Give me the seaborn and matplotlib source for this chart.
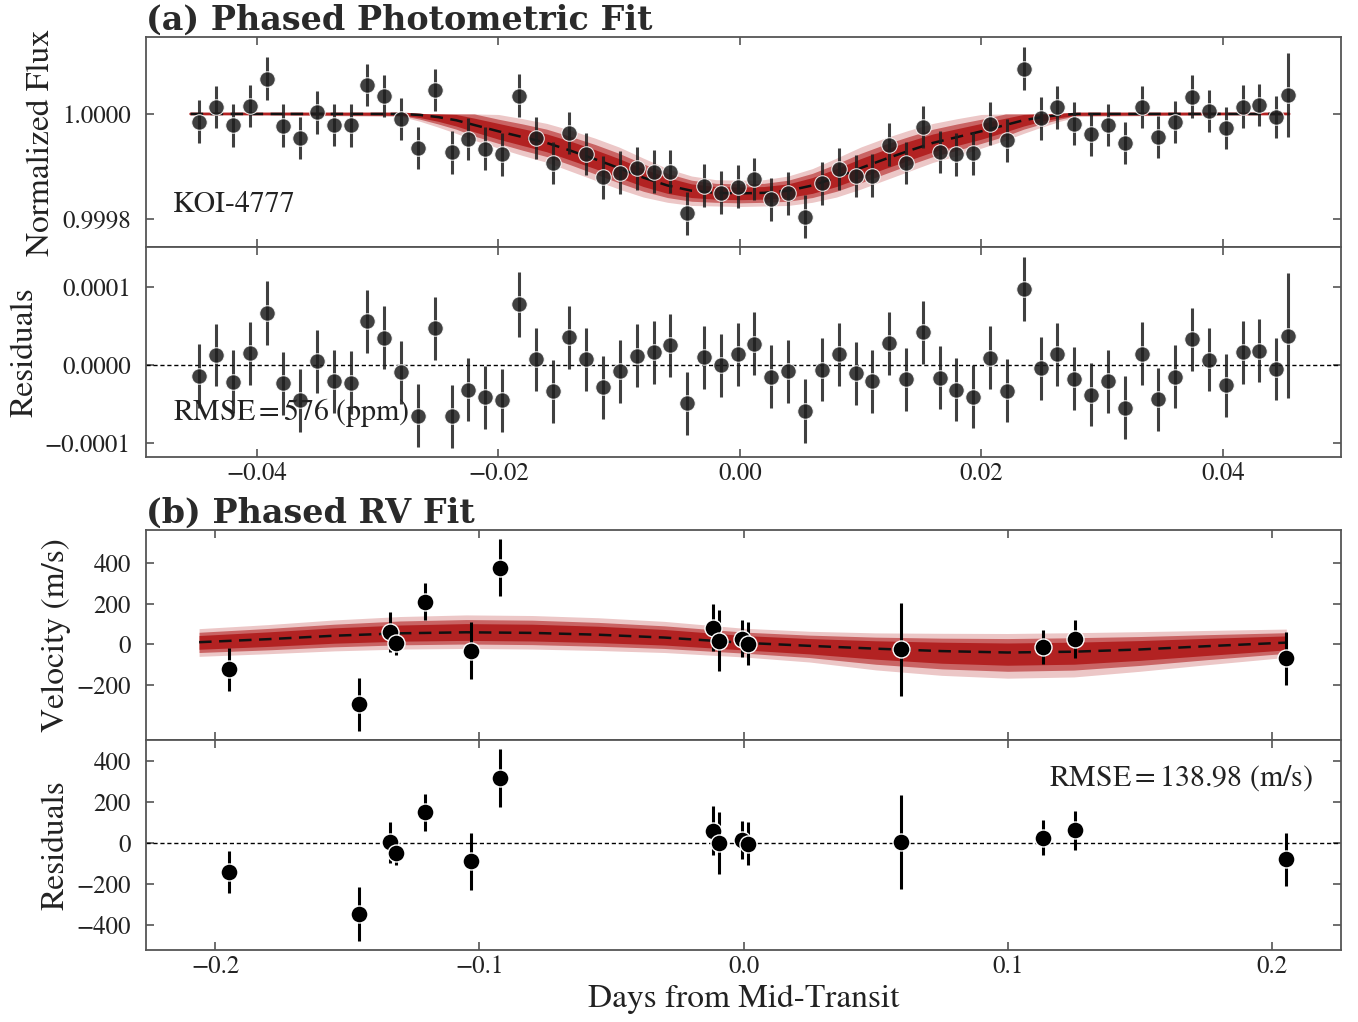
import numpy as np
import pandas as pd
import matplotlib
matplotlib.use("Agg")
import matplotlib.pyplot as plt
from matplotlib.ticker import FuncFormatter, FixedLocator
import seaborn as sns

# ---------------- data: (a) phased photometry ----------------
phot_x = [-0.04479, -0.04340, -0.04200, -0.04061, -0.03921, -0.03782, -0.03643, -0.03503,
          -0.03364, -0.03224, -0.03085, -0.02946, -0.02806, -0.02667, -0.02527, -0.02388,
          -0.02249, -0.02109, -0.01970, -0.01830, -0.01691, -0.01552, -0.01412, -0.01273,
          -0.01133, -0.00994, -0.00855, -0.00715, -0.00576, -0.00436, -0.00297, -0.00158,
          -0.00018, 0.00121, 0.00261, 0.00400, 0.00540, 0.00679, 0.00818, 0.00958,
          0.01097, 0.01237, 0.01376, 0.01515, 0.01655, 0.01794, 0.01934, 0.02073,
          0.02212, 0.02352, 0.02491, 0.02631, 0.02770, 0.02909, 0.03049, 0.03188,
          0.03328, 0.03467, 0.03606, 0.03746, 0.03885, 0.04025, 0.04164, 0.04303,
          0.04443, 0.04540]
# flux deviation from 1 in ppm
phot_dflux_ppm = [-14.6, 12.7, -21.7, 14.6, 66.9, -22.3, -45.9, 3.2, -21.0, -21.7, 54.8, 33.8,
                  -9.6, -65.0, 45.2, -73.2, -47.8, -66.2, -77.1, 35.0, -45.9, -93.6, -36.3, -75.8,
                  -120.4, -111.5, -103.2, -109.6, -109.6, -189.2, -136.3, -149.7, -138.2, -123.6,
                  -162.4, -151.0, -195.5, -131.8, -104.5, -117.8, -117.2, -58.6, -93.6, -24.8,
                  -72.0, -77.1, -75.2, -18.5, -50.3, 86.0, -8.3, 12.7, -18.5, -38.9, -21.0,
                  -55.4, 13.4, -43.9, -15.3, 33.1, 5.7, -26.8, 14.0, 17.2, -5.7, 36.3]
phot_resid_ppm = [-14.1, 12.8, -21.4, 15.0, 67.2, -23.1, -45.0, 5.1, -20.6, -22.7, 56.1, 35.1,
                  -9.0, -64.7, 47.1, -65.5, -31.7, -41.1, -45.0, 77.9, 7.7, -33.4, 36.0, 7.3,
                  -28.7, -7.7, 12.0, 16.3, 25.7, -48.8, 10.3, 0.0, 13.7, 27.4, -15.0, -7.7,
                  -59.2, -5.6, 13.7, -10.7, -20.6, 27.9, -18.0, 42.1, -16.3, -31.7, -40.3, 9.4,
                  -33.0, 97.6, -4.3, 13.7, -17.2, -38.2, -20.6, -54.5, 14.6, -43.8, -15.0, 33.5,
                  6.9, -26.1, 16.3, 18.5, -5.2, 37.8]
phot_err_ppm = [40.7, 39.5, 40.5, 40.0, 40.7, 40.5, 40.5, 40.5, 40.5, 40.5, 40.5, 40.5,
                40.5, 40.0, 40.5, 40.5, 40.5, 40.5, 40.5, 41.3, 40.5, 40.5, 40.5, 40.5,
                40.5, 40.5, 40.5, 40.5, 40.5, 40.5, 40.5, 40.5, 40.5, 40.5, 40.5, 40.5,
                41.0, 40.5, 40.5, 40.5, 40.5, 40.5, 40.5, 40.5, 40.5, 40.5, 40.5, 40.5,
                40.5, 41.0, 40.5, 40.5, 40.5, 40.5, 40.5, 40.5, 40.5, 40.5, 40.5, 40.5,
                40.5, 40.5, 40.5, 40.5, 39.6, 80.5]

# transit model (ppm) and credible-band half widths (ppm)
tm_x = [-0.0455, -0.0280, -0.0265, -0.0250, -0.0235, -0.0220, -0.0200, -0.0180, -0.0160,
        -0.0140, -0.0120, -0.0100, -0.0080, -0.0060, -0.0040, -0.0020, 0.0000,
        0.0020, 0.0040, 0.0060, 0.0080, 0.0100, 0.0120, 0.0140, 0.0160, 0.0180,
        0.0200, 0.0220, 0.0235, 0.0250, 0.0265, 0.0280, 0.0455]
tm_ppm = [0, 0, -2, -6, -12, -21, -33, -44, -55, -70, -86, -103, -121, -136, -146, -150, -151,
          -150, -146, -136, -121, -103, -86, -70, -55, -44, -33, -21, -12, -6, -2, 0, 0]
tm_hw1 = [0, 2, 5, 8, 11, 13, 15, 16, 17, 18, 18, 18, 17, 15, 13, 12, 12,
          12, 13, 15, 17, 18, 18, 18, 17, 16, 15, 13, 11, 8, 5, 2, 0]
tm_hw2 = [0, 3, 8, 13, 17, 21, 23, 25, 26, 27, 28, 28, 26, 23, 20, 18, 18,
          18, 20, 23, 26, 28, 28, 27, 26, 25, 23, 21, 17, 13, 8, 3, 0]
tm_hw3 = [0, 5, 12, 19, 25, 29, 32, 35, 37, 39, 40, 40, 37, 32, 28, 25, 25,
          25, 28, 32, 37, 40, 40, 39, 37, 35, 32, 29, 25, 19, 12, 5, 0]

# ---------------- data: (b) phased RV ----------------
rv_x = [-0.1949, -0.1454, -0.1339, -0.1316, -0.1207, -0.1033, -0.0922, -0.0117,
        -0.0093, -0.0006, 0.0018, 0.0598, 0.1135, 0.1254, 0.2055]
rv_v = [-125, -298, 60, 5, 211, -32, 379, 82, 18, 28, 3, -25, -13, 27, -70]
rv_err = [104, 131, 100, 60, 91, 140, 141, 118, 152, 93, 105, 230, 85, 95, 131]
rv_resid = [-143, -348, 3, -49, 151, -90, 318, 61, 0, 16, -3, 5, 26, 62, -80]

rvm_x = [-0.2061, -0.180, -0.155, -0.130, -0.105, -0.080, -0.055, -0.030, 0.000,
         0.025, 0.050, 0.075, 0.100, 0.125, 0.150, 0.175, 0.2055]
rvm_v = [10, 25, 42, 54, 59, 56, 47, 33, 7, -8, -22, -34, -41, -37, -26, -10, 8]
rvm_up3 = [67, 72, 78, 83, 86, 86, 84, 80, 72, 72, 78, 88, 94, 94, 88, 78, 67]
rvm_lo3 = [70, 72, 75, 78, 80, 80, 78, 74, 70, 80, 105, 120, 127, 125, 108, 92, 73]
rvm_up2 = [49, 53, 57, 61, 63, 63, 61, 58, 53, 53, 57, 64, 69, 69, 64, 57, 49]
rvm_lo2 = [51, 53, 55, 57, 58, 58, 57, 54, 51, 58, 77, 88, 93, 91, 79, 67, 53]
rvm_up1 = [33, 36, 39, 41, 43, 43, 42, 40, 36, 36, 39, 44, 47, 47, 44, 39, 33]
rvm_lo1 = [35, 36, 37, 39, 40, 40, 39, 37, 35, 40, 52, 60, 63, 62, 54, 46, 36]

rmse_phot = "576"
rmse_rv = "138.98"

# ---------------- style ----------------
sns.set_theme(style="ticks")
plt.rcParams.update({
    "font.family": ["STIXGeneral", "DejaVu Serif"],
    "mathtext.fontset": "stix",
    "axes.edgecolor": "#555555",
    "axes.linewidth": 1.3,
    "xtick.direction": "in", "ytick.direction": "in",
    "xtick.top": True, "ytick.right": True,
    "xtick.major.size": 6, "ytick.major.size": 6,
    "xtick.major.width": 1.2, "ytick.major.width": 1.2,
    "ytick.major.pad": 11,
    "xtick.color": "#555555", "ytick.color": "#555555",
    "xtick.labelcolor": "#222222", "ytick.labelcolor": "#222222",
    "xtick.labelsize": 18, "ytick.labelsize": 18,
    "axes.labelsize": 24, "axes.labelcolor": "#222222",
})

C1, C2, C3 = "#b22222", "#c96464", "#ecc7c7"
MINUS = "\u2212"


def fmt(spec):
    return FuncFormatter(lambda v, p: (spec % v).replace("-", MINUS))


fig = plt.figure(figsize=(13.58, 10.22), dpi=100)
L, W, H = 0.1075, 0.8800, 0.2055
ax1 = fig.add_axes([L, 0.7583, W, H])
ax2 = fig.add_axes([L, 0.5528, W, H], sharex=ax1)
ax3 = fig.add_axes([L, 0.2759, W, H])
ax4 = fig.add_axes([L, 0.0705, W, H], sharex=ax3)

# ---- (a) photometric fit ----
px = np.array(phot_x)
pflux = 1.0 + np.array(phot_dflux_ppm) * 1e-6
pres = np.array(phot_resid_ppm) * 1e-6
perr = np.array(phot_err_ppm) * 1e-6
mx = np.array(tm_x)
mflux = 1.0 + np.array(tm_ppm) * 1e-6
for hw, col in [(tm_hw3, C3), (tm_hw2, C2), (tm_hw1, C1)]:
    hw = np.array(hw) * 1e-6
    ax1.fill_between(mx, mflux - hw, np.minimum(mflux + hw, 1.0), color=col, lw=0, zorder=1)
sns.lineplot(x=mx, y=mflux, ax=ax1, color=C1, lw=2.0, zorder=2)
sns.lineplot(x=mx, y=mflux, ax=ax1, color="#111111", lw=1.8, zorder=3,
             linestyle=(0, (5, 3)))

dfp = pd.DataFrame({"x": px, "flux": pflux, "resid": pres, "err": perr})
ax1.errorbar(dfp.x, dfp.flux, yerr=dfp.err, fmt="none", ecolor="#1e1e1e",
             elinewidth=2.2, alpha=0.85, zorder=4)
sns.scatterplot(data=dfp, x="x", y="flux", ax=ax1, color="#1e1e1e", s=125,
                edgecolor="white", linewidth=0.8, alpha=0.85, zorder=5)
ax1.text(0.0226, 0.20, "KOI-4777", transform=ax1.transAxes, fontsize=21.5,
         va="center", ha="left", color="#222222")

ax2.axhline(0, color="black", lw=1.0, linestyle=(0, (3, 2)), zorder=1)
ax2.errorbar(dfp.x, dfp.resid, yerr=dfp.err, fmt="none", ecolor="#1e1e1e",
             elinewidth=2.2, alpha=0.85, zorder=4)
sns.scatterplot(data=dfp, x="x", y="resid", ax=ax2, color="#1e1e1e", s=125,
                edgecolor="white", linewidth=0.8, alpha=0.85, zorder=5)
ax2.text(0.0226, 0.21, r"$\mathrm{RMSE} = " + rmse_phot + r"$ (ppm)",
         transform=ax2.transAxes, fontsize=21.5, va="center", ha="left", color="#222222",
         zorder=6)

ax1.set_xlim(-0.0492, 0.0498)
ax1.set_ylim(0.999747, 1.0001463)
ax1.yaxis.set_major_locator(FixedLocator([0.9998, 1.0000]))
ax1.yaxis.set_major_formatter(fmt("%.4f"))
ax1.tick_params(labelbottom=False)
ax1.set_ylabel("Normalized Flux")
ax1.set_xlabel("")
ax2.set_ylim(-1.18e-4, 1.517e-4)
ax2.yaxis.set_major_locator(FixedLocator([-1e-4, 0.0, 1e-4]))
ax2.yaxis.set_major_formatter(fmt("%.4f"))
ax2.xaxis.set_major_locator(FixedLocator([-0.04, -0.02, 0.0, 0.02, 0.04]))
ax2.xaxis.set_major_formatter(fmt("%.2f"))
ax2.set_ylabel("Residuals")
ax2.set_xlabel("")
ax1.set_title("(a) Phased Photometric Fit", loc="left", fontsize=24, fontweight="bold",
              family="DejaVu Serif", color="#2a2a2a", pad=4, x=0.0)

# ---- (b) RV fit ----
rmx = np.array(rvm_x)
rmv = np.array(rvm_v)
for up, lo, col in [(rvm_up3, rvm_lo3, C3), (rvm_up2, rvm_lo2, C2), (rvm_up1, rvm_lo1, C1)]:
    ax3.fill_between(rmx, rmv - np.array(lo), rmv + np.array(up), color=col, lw=0, zorder=1)
sns.lineplot(x=rmx, y=rmv, ax=ax3, color="#111111", lw=1.8, zorder=3,
             linestyle=(0, (5, 3)))
dfr = pd.DataFrame({"x": rv_x, "v": rv_v, "err": rv_err, "resid": rv_resid})
ax3.errorbar(dfr.x, dfr.v, yerr=dfr.err, fmt="none", ecolor="black",
             elinewidth=2.2, zorder=4)
sns.scatterplot(data=dfr, x="x", y="v", ax=ax3, color="black", s=150,
                edgecolor="white", linewidth=1.0, zorder=5)

ax4.axhline(0, color="black", lw=1.0, linestyle=(0, (3, 2)), zorder=1)
ax4.errorbar(dfr.x, dfr.resid, yerr=dfr.err, fmt="none", ecolor="black",
             elinewidth=2.2, zorder=4)
sns.scatterplot(data=dfr, x="x", y="resid", ax=ax4, color="black", s=150,
                edgecolor="white", linewidth=1.0, zorder=5)
ax4.text(0.9766, 0.82, r"$\mathrm{RMSE} = " + rmse_rv + r"$ (m/s)",
         transform=ax4.transAxes, fontsize=21.5, va="center", ha="right", color="#222222")

ax3.set_xlim(-0.2262, 0.2262)
ax3.set_ylim(-474, 565)
ax3.yaxis.set_major_locator(FixedLocator([-200, 0, 200, 400]))
ax3.yaxis.set_major_formatter(fmt("%d"))
ax3.tick_params(labelbottom=False)
ax3.set_ylabel("Velocity (m/s)")
ax3.set_xlabel("")
ax4.set_ylim(-524, 505)
ax4.yaxis.set_major_locator(FixedLocator([-400, -200, 0, 200, 400]))
ax4.yaxis.set_major_formatter(fmt("%d"))
ax4.xaxis.set_major_locator(FixedLocator([-0.2, -0.1, 0.0, 0.1, 0.2]))
ax4.xaxis.set_major_formatter(fmt("%.1f"))
ax4.set_ylabel("Residuals")
ax4.set_xlabel("Days from Mid-Transit", fontsize=24)
ax3.set_title("(b) Phased RV Fit", loc="left", fontsize=24, fontweight="bold",
              family="DejaVu Serif", color="#2a2a2a", pad=4, x=0.0)

for ax in (ax1, ax2, ax3, ax4):
    for s in ax.spines.values():
        s.set_visible(True)
    if ax.get_legend() is not None:
        ax.get_legend().remove()

fig.savefig("out.png", dpi=100)
